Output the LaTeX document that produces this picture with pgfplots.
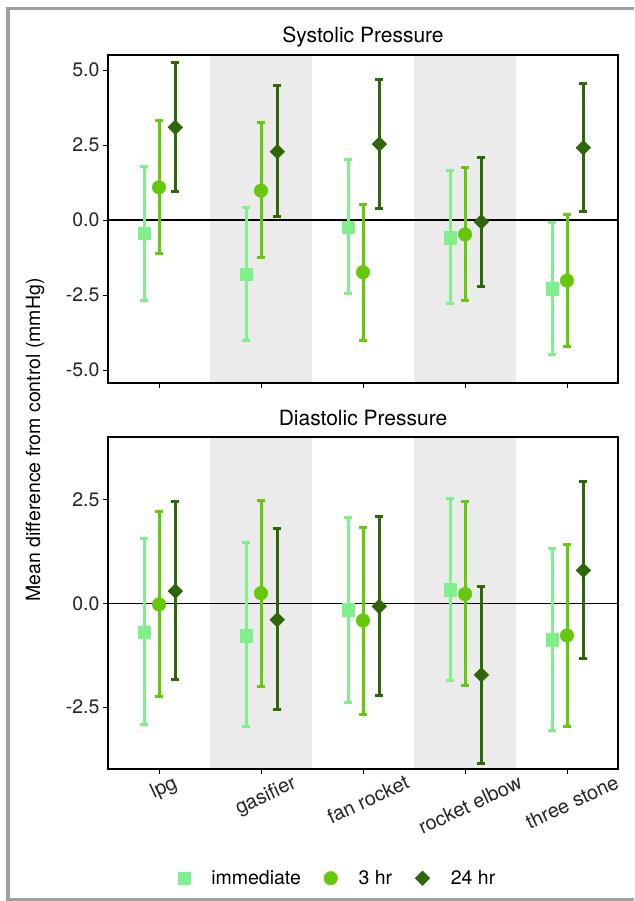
\documentclass[border=0pt]{standalone}
\usepackage{pgfplots}
\pgfplotsset{compat=1.18}
\usepackage{pgfplotstable}
\usepackage{graphicx}
\usepackage{fontspec}
\setmainfont{TeX Gyre Heros}

\definecolor{cimm}{HTML}{80F08C}
\definecolor{cthree}{HTML}{66C80A}
\definecolor{cday}{HTML}{2E6608}
\definecolor{shadegray}{HTML}{EBEBEB}
\definecolor{framegray}{HTML}{A0A0A0}

% x y lo hi
\pgfplotstableread{
x y lo hi
-0.145 -0.44 -2.67 1.80
0.855 -1.81 -4.02 0.42
1.855 -0.24 -2.44 2.03
2.855 -0.59 -2.78 1.64
3.855 -2.28 -4.47 -0.09
}\sysimm
\pgfplotstableread{
x y lo hi
0 1.09 -1.13 3.33
1 0.98 -1.26 3.24
2 -1.74 -4.00 0.52
3 -0.48 -2.67 1.74
4 -2.02 -4.22 0.19
}\systhree
\pgfplotstableread{
x y lo hi
0.16 3.09 0.94 5.24
1.16 2.28 0.11 4.47
2.16 2.53 0.39 4.70
3.16 -0.06 -2.20 2.09
4.16 2.41 0.28 4.56
}\sysday
\pgfplotstableread{
x y lo hi
-0.145 -0.69 -2.91 1.56
0.855 -0.77 -2.97 1.47
1.855 -0.15 -2.38 2.08
2.855 0.33 -1.86 2.54
3.855 -0.87 -3.07 1.32
}\diaimm
\pgfplotstableread{
x y lo hi
0 -0.02 -2.25 2.23
1 0.25 -2.00 2.49
2 -0.41 -2.68 1.84
3 0.23 -1.98 2.45
4 -0.77 -2.97 1.43
}\diathree
\pgfplotstableread{
x y lo hi
0.16 0.30 -1.84 2.47
1.16 -0.39 -2.56 1.80
2.16 -0.07 -2.22 2.10
3.16 -1.72 -3.86 0.42
4.16 0.80 -1.32 2.95
}\diaday

\newcommand{\fs}{\fontsize{19.5}{22}\selectfont}
\newcommand{\fx}{\fontsize{20}{22}\selectfont}
\newcommand{\ft}{\fontsize{21}{24}\selectfont}

\pgfplotsset{
  common/.style={
    scale only axis, width=510pt,
    xmin=-0.5, xmax=4.5, xtick={0,1,2,3,4},
    tick align=outside, xtick pos=bottom, ytick pos=left,
    major tick length=5pt,
    tick style={black, line width=1pt},
    axis line style={black, line width=1.3pt},
    axis on top,
    every tick label/.append style={font=\fs, text=black!85},
    clip=false,
  },
  pt/.style={only marks, color=#1,
    error bars/y dir=both, error bars/y explicit,
    error bars/error bar style={line width=3pt, color=#1},
    error bars/error mark=-,
    error bars/error mark options={line width=3pt, mark size=4pt, color=#1, rotate=90}},
}

\begin{document}
\begin{tikzpicture}[x=1pt,y=1pt]
\fill[white] (0pt,0pt) rectangle (634pt,-901pt);
\path[use as bounding box] (0pt,0pt) rectangle (634pt,-901pt);
\draw[framegray, line width=3.5pt] (634pt,-8.5pt) -- (8pt,-8.5pt) -- (8pt,-899.5pt) -- (634pt,-899.5pt);

\node[font=\ft, anchor=base] at (363pt,-43pt) {Systolic Pressure};
\node[font=\ft, anchor=base] at (363pt,-425pt) {Diastolic Pressure};
\node[font=\fs, rotate=90] at (35pt,-440pt) {Mean difference from control (mmHg)};

\begin{axis}[common, at={(108pt,-383pt)}, anchor=south west, height=328pt,
  ymin=-5.433, ymax=5.5, ytick={-5,-2.5,0,2.5,5},
  yticklabels={-5.0,-2.5,0.0,2.5,5.0}, xticklabels={}]
  \fill[shadegray] (axis cs:0.5,-5.433) rectangle (axis cs:1.5,5.5);
  \fill[shadegray] (axis cs:2.5,-5.433) rectangle (axis cs:3.5,5.5);
  \draw[black, line width=1.3pt] (axis cs:-0.5,0) -- (axis cs:4.5,0);
  \addplot[pt=cimm, mark=square*, mark size=6.3pt] table[x=x, y=y,
    y error plus expr=\thisrow{hi}-\thisrow{y}, y error minus expr=\thisrow{y}-\thisrow{lo}] {\sysimm};
  \addplot[pt=cthree, mark=*, mark size=6.8pt] table[x=x, y=y,
    y error plus expr=\thisrow{hi}-\thisrow{y}, y error minus expr=\thisrow{y}-\thisrow{lo}] {\systhree};
  \addplot[pt=cday, mark=square*, mark size=5.2pt, mark options={rotate=45}] table[x=x, y=y,
    y error plus expr=\thisrow{hi}-\thisrow{y}, y error minus expr=\thisrow{y}-\thisrow{lo}] {\sysday};
\end{axis}

\begin{axis}[common, at={(108pt,-769pt)}, anchor=south west, height=332pt,
  ymin=-3.99, ymax=4.016, ytick={-2.5,0,2.5},
  yticklabels={-2.5,0.0,2.5},
  xticklabels={\rotatebox{25}{lpg},\rotatebox{25}{gasifier},\rotatebox{25}{fan rocket},\rotatebox{25}{rocket elbow},\rotatebox{25}{three stone}},
  xticklabel style={anchor=north, xshift=5pt, inner sep=0pt, font=\fx},
  legend style={at={(0.45,-0.329)}, anchor=center, draw=none, fill=none,
    font=\fs, legend columns=3,
    /tikz/every odd column/.append style={column sep=19pt},
    /tikz/every even column/.append style={column sep=21pt}},
  legend cell align=left]
  \fill[shadegray] (axis cs:0.5,-3.99) rectangle (axis cs:1.5,4.016);
  \fill[shadegray] (axis cs:2.5,-3.99) rectangle (axis cs:3.5,4.016);
  \draw[black, line width=1.3pt] (axis cs:-0.5,0) -- (axis cs:4.5,0);
  \addplot[pt=cimm, mark=square*, mark size=6.3pt] table[x=x, y=y,
    y error plus expr=\thisrow{hi}-\thisrow{y}, y error minus expr=\thisrow{y}-\thisrow{lo}] {\diaimm};
  \addlegendentry{immediate}
  \addplot[pt=cthree, mark=*, mark size=6.8pt] table[x=x, y=y,
    y error plus expr=\thisrow{hi}-\thisrow{y}, y error minus expr=\thisrow{y}-\thisrow{lo}] {\diathree};
  \addlegendentry{3 hr}
  \addplot[pt=cday, mark=square*, mark size=5.2pt, mark options={rotate=45}] table[x=x, y=y,
    y error plus expr=\thisrow{hi}-\thisrow{y}, y error minus expr=\thisrow{y}-\thisrow{lo}] {\diaday};
  \addlegendentry{24 hr}
\end{axis}
\end{tikzpicture}
\end{document}
